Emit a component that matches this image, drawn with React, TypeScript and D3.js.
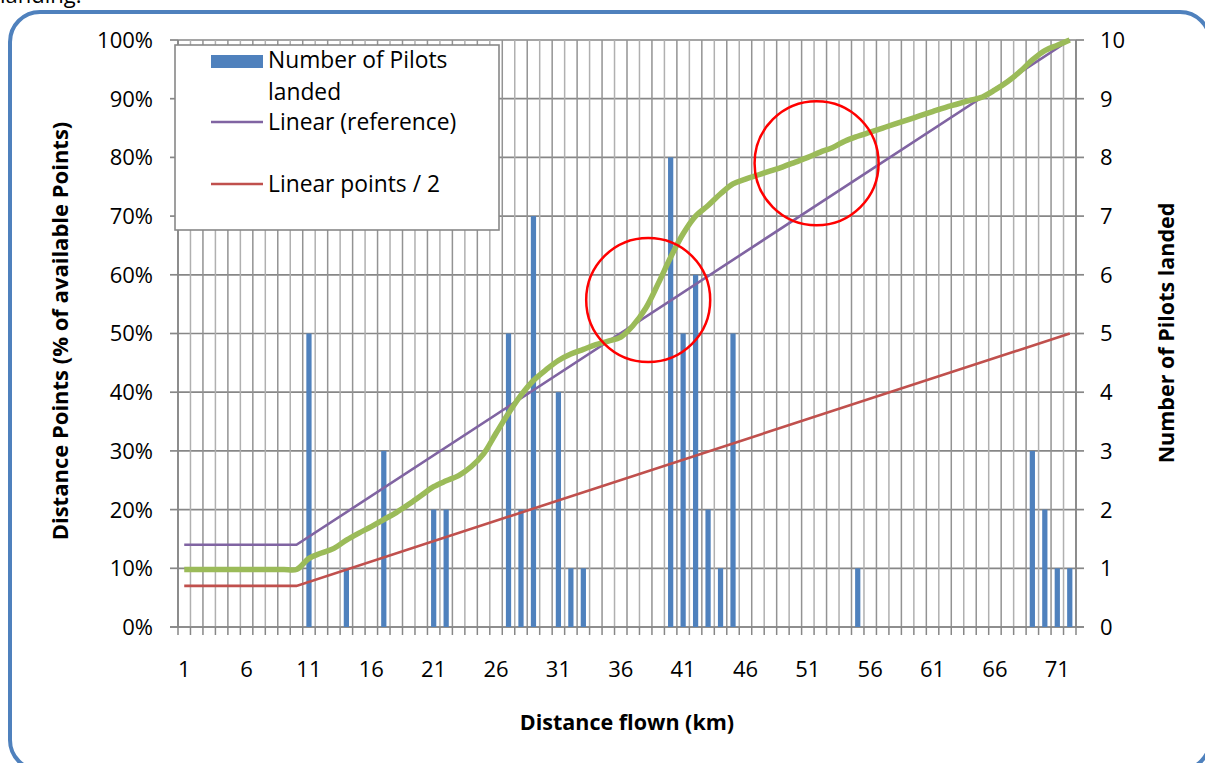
import React from "react";
import * as d3 from "d3";

// ---- data ----
const categories: number[] = d3.range(1, 73); // km 1..72
const xTickLabels: number[] = [1, 6, 11, 16, 21, 26, 31, 36, 41, 46, 51, 56, 61, 66, 71];
const leftTicks: number[] = [0, 10, 20, 30, 40, 50, 60, 70, 80, 90, 100];
const rightTicks: number[] = [0, 1, 2, 3, 4, 5, 6, 7, 8, 9, 10];

const landedKm: number[] = [11, 14, 17, 21, 22, 27, 28, 29, 31, 32, 33, 40, 41, 42, 43, 44, 45, 55, 69, 70, 71, 72];
const landedCount: number[] = [5, 1, 3, 2, 2, 5, 2, 7, 4, 1, 1, 8, 5, 6, 2, 1, 5, 1, 3, 2, 1, 1];

// straight reference lines: vertices [km, %]
const linearRefKm: number[] = [1, 10, 72];
const linearRefPct: number[] = [14, 14, 100];
const linearHalfKm: number[] = [1, 10, 72];
const linearHalfPct: number[] = [7, 7, 50];

// actual distance points curve (% of available points), km 1..72
const distancePoints: number[] = [
  9.8, 9.8, 9.8, 9.8, 9.8, 9.8, 9.8, 9.8, 9.8, 9.8,
  11.7, 12.6, 13.4, 14.8, 16.0, 17.1, 18.3, 19.5, 20.9, 22.4,
  23.9, 24.9, 25.8, 27.3, 29.5, 33.0, 36.4, 39.5, 42.0, 43.8,
  45.4, 46.5, 47.3, 48.1, 48.7, 49.4, 51.4, 54.3, 58.5, 63.0,
  67.0, 70.0, 71.8, 73.8, 75.5, 76.3, 77.0, 77.7, 78.4, 79.2,
  80.0, 80.9, 81.7, 82.8, 83.6, 84.3, 85.0, 85.7, 86.4, 87.1,
  87.8, 88.5, 89.1, 89.7, 90.3, 91.5, 92.9, 94.6, 96.6, 98.2,
  99.1, 100.0,
];

// annotation circles [km, %]
const circleKm: number[] = [38.2, 51.7];
const circlePct: number[] = [55.7, 79.0];

const legendLabels: string[] = ["Number of Pilots", "landed", "Linear (reference)", "Linear points / 2"];

// ---- layout ----
const W = 1205;
const H = 763;
const L = 178, R = 1076, T = 40, B = 627;
const FONT = "'Open Sans', Lato, sans-serif";

export default function App() {
  const x = d3.scaleBand<number>().domain(categories).range([L, R]).padding(0);
  const bw = x.bandwidth();
  const cx = (k: number) => (x(k) as number) + bw / 2;
  const kmLin = d3.scaleLinear().domain([1, 72]).range([cx(1), cx(72)]);
  const yL = d3.scaleLinear().domain([0, 100]).range([B, T]);
  const yR = d3.scaleLinear().domain([0, 10]).range([B, T]);

  const straight = d3.line<[number, number]>().x((d) => cx(d[0])).y((d) => yL(d[1]));
  const smooth = d3
    .line<[number, number]>()
    .x((d) => cx(d[0]))
    .y((d) => yL(d[1]))
    .curve(d3.curveCatmullRom.alpha(0.5));

  const refPts = linearRefKm.map((k, i) => [k, linearRefPct[i]] as [number, number]);
  const halfPts = linearHalfKm.map((k, i) => [k, linearHalfPct[i]] as [number, number]);
  const greenPts = categories.map((k, i) => [k, distancePoints[i]] as [number, number]);

  const boundaries = d3.range(0, categories.length + 1).map((i) => L + i * bw);
  const barW = bw * 0.42;
  const radius = 62;
  const fs = 22;
  const lfs = 22.8;

  return (
    <svg
      width={W}
      height={H}
      style={{ position: "absolute", left: 0, top: 0, background: "#fff" }}
      fontFamily={FONT}
    >
      <rect x={0} y={0} width={W} height={H} fill="#fff" />
      <text x={0} y={3} fontSize={22} fill="#000">landing.</text>
      <rect x={10} y={12} width={1200} height={758} rx={30} ry={30} fill="#fff" stroke="#4F81BD" strokeWidth={4} />

      {/* horizontal gridlines */}
      {leftTicks.map((t) => (
        <line key={"h" + t} x1={L} x2={R} y1={yL(t)} y2={yL(t)} stroke="#878787" strokeWidth={1.7} />
      ))}
      {/* vertical gridlines */}
      {boundaries.map((bx, i) => (
        <line key={"v" + i} x1={bx} x2={bx} y1={T} y2={B} stroke={i % 2 ? "#b0b0b0" : "#939393"} strokeWidth={1.5} />
      ))}
      {/* bottom ticks */}
      {boundaries.map((bx, i) => (
        <line key={"bt" + i} x1={bx} x2={bx} y1={B} y2={B + 8} stroke="#878787" strokeWidth={1.5} />
      ))}
      {/* axes */}
      <line x1={L} x2={L} y1={T} y2={B} stroke="#878787" strokeWidth={1.7} />
      <line x1={R} x2={R} y1={T} y2={B} stroke="#878787" strokeWidth={1.7} />
      <line x1={L - 8} x2={R + 8} y1={B} y2={B} stroke="#878787" strokeWidth={1.7} />
      {leftTicks.map((t) => (
        <line key={"lt" + t} x1={L - 8} x2={L} y1={yL(t)} y2={yL(t)} stroke="#878787" strokeWidth={1.7} />
      ))}
      {rightTicks.map((t) => (
        <line key={"rt" + t} x1={R} x2={R + 8} y1={yR(t)} y2={yR(t)} stroke="#878787" strokeWidth={1.7} />
      ))}

      {/* bars (secondary axis) */}
      {landedKm.map((k, i) => (
        <rect
          key={"b" + k}
          x={cx(k) - barW / 2}
          y={yR(landedCount[i])}
          width={barW}
          height={yR(0) - yR(landedCount[i])}
          fill="#4F81BD"
        />
      ))}

      {/* lines */}
      <path d={straight(refPts) || ""} fill="none" stroke="#8064A2" strokeWidth={2.6} />
      <path d={straight(halfPts) || ""} fill="none" stroke="#C0504D" strokeWidth={2.6} />
      <path d={smooth(greenPts) || ""} fill="none" stroke="#9BBB59" strokeWidth={5.5} strokeLinejoin="round" />

      {/* annotation circles */}
      {circleKm.map((k, i) => (
        <circle key={"c" + i} cx={kmLin(k)} cy={yL(circlePct[i])} r={radius} fill="none" stroke="#FF0000" strokeWidth={2.5} />
      ))}

      {/* left tick labels */}
      {leftTicks.map((t) => (
        <text key={"ll" + t} x={153} y={yL(t)} dy="0.36em" textAnchor="end" fontSize={fs} fill="#000">
          {t + "%"}
        </text>
      ))}
      {/* right tick labels */}
      {rightTicks.map((t) => (
        <text key={"rl" + t} x={1100} y={yR(t)} dy="0.36em" textAnchor="start" fontSize={fs} fill="#000">
          {t}
        </text>
      ))}
      {/* x tick labels */}
      {xTickLabels.map((t) => (
        <text key={"xl" + t} x={cx(t)} y={677} textAnchor="middle" fontSize={fs} fill="#000">
          {t}
        </text>
      ))}

      {/* axis titles */}
      <text x={627} y={730} textAnchor="middle" fontSize={21.5} fontWeight="bold" fill="#000">
        Distance flown (km)
      </text>
      <text
        transform={`translate(68,331) rotate(-90)`}
        textAnchor="middle"
        fontSize={22}
        fontWeight="bold"
        fill="#000"
      >
        Distance Points (% of available Points)
      </text>
      <text
        transform={`translate(1174,333) rotate(-90)`}
        textAnchor="middle"
        fontSize={21.5}
        fontWeight="bold"
        fill="#000"
      >
        Number of Pilots landed
      </text>

      {/* legend */}
      <rect x={175} y={45} width={324} height={185} fill="#fff" stroke="#888" strokeWidth={1.6} />
      <rect x={211} y={55} width={52} height={13} fill="#4F81BD" />
      <text x={268} y={68} fontSize={lfs} fill="#000">{legendLabels[0]}</text>
      <text x={268} y={100} fontSize={lfs} fill="#000">{legendLabels[1]}</text>
      <line x1={211} x2={263} y1={122} y2={122} stroke="#8064A2" strokeWidth={2.6} />
      <text x={268} y={130} fontSize={lfs} fill="#000">{legendLabels[2]}</text>
      <line x1={211} x2={263} y1={184} y2={184} stroke="#C0504D" strokeWidth={2.6} />
      <text x={268} y={192} fontSize={lfs} fill="#000">{legendLabels[3]}</text>
    </svg>
  );
}
